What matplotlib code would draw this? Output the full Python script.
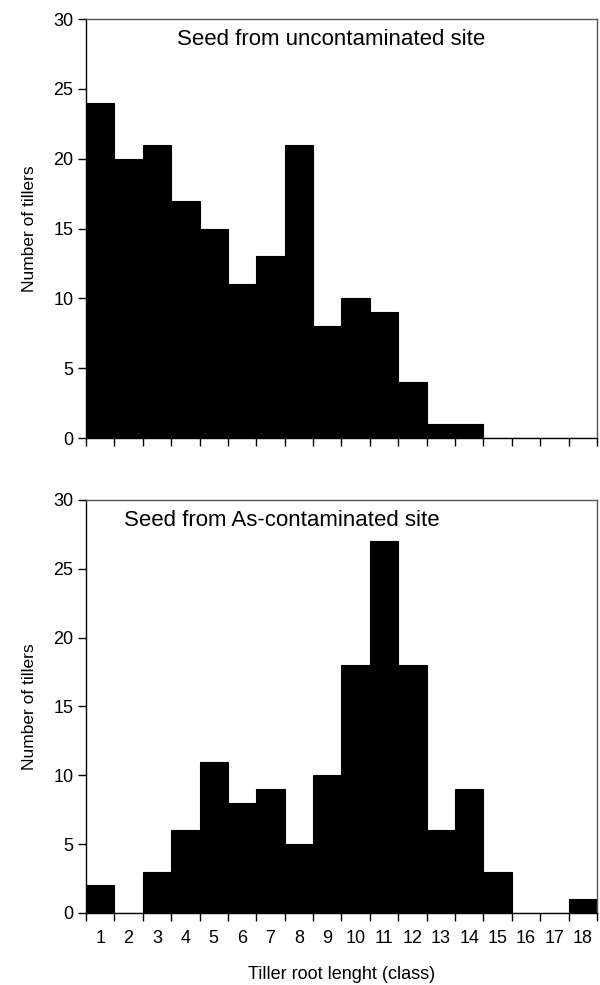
import matplotlib
matplotlib.use("Agg")
import matplotlib.pyplot as plt

plt.rcParams['font.family'] = ['Liberation Sans', 'DejaVu Sans']

classes = list(range(1, 19))
uncontaminated = [24, 20, 21, 17, 15, 11, 13, 21, 8, 10, 9, 4, 1, 1, 0, 0, 0, 0]
contaminated = [2, 0, 3, 6, 11, 8, 9, 5, 10, 18, 27, 18, 6, 9, 3, 0, 0, 1]
yticks = [0, 5, 10, 15, 20, 25, 30]

fig = plt.figure(figsize=(6, 9.85), dpi=100)
ax1 = fig.add_axes([0.1433, 0.5553, 0.8517, 0.4254])
ax2 = fig.add_axes([0.1433, 0.0731, 0.8517, 0.4193])

edges = [c - 0.5 for c in classes] + [classes[-1] + 0.5]

for ax, data, title, tx, ha in [
    (ax1, uncontaminated, "Seed from uncontaminated site", 0.48, 'center'),
    (ax2, contaminated, "Seed from As-contaminated site", 0.074, 'left'),
]:
    ax.bar(classes, data, width=1.0, color='black', edgecolor='black', linewidth=0.8)
    ax.set_xlim(0.5, 18.5)
    ax.set_ylim(0, 30)
    ax.set_yticks(yticks)
    ax.set_xticks(edges)
    ax.set_xticklabels([])
    ax.set_xticks(classes, minor=True)
    ax.tick_params(axis='x', which='minor', length=0, labelsize=13, pad=12)
    ax.tick_params(axis='both', which='major', direction='out', length=6, width=1, labelsize=13, colors='black', pad=3)
    ax.set_ylabel("Number of tillers", fontsize=12.5, labelpad=12)
    for s in ['top', 'right']:
        ax.spines[s].set_color('#555555')
        ax.spines[s].set_linewidth(1.0)
    for s in ['left', 'bottom']:
        ax.spines[s].set_linewidth(1.0)
    ax.text(tx, 0.95, title, transform=ax.transAxes, ha=ha, va='center', fontsize=16)

ax1.set_xticklabels([], minor=True)
ax2.set_xticklabels([str(c) for c in classes], minor=True)
ax2.set_xlabel("Tiller root lenght (class)", fontsize=13, labelpad=14)

fig.savefig("out.png", dpi=100)
